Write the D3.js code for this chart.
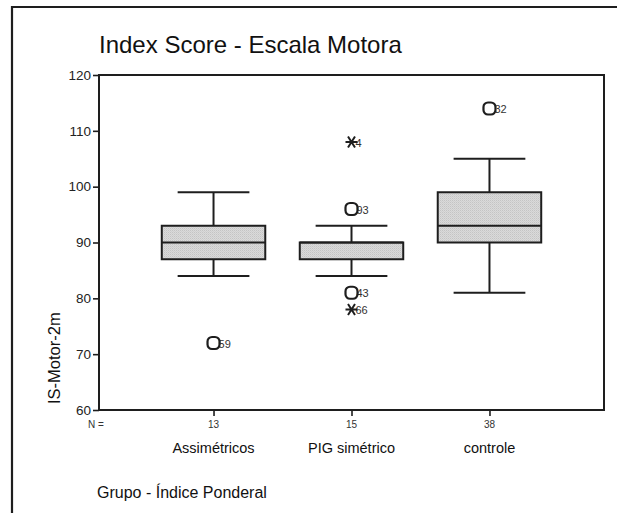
<!DOCTYPE html>
<html>
<head>
<meta charset="utf-8">
<script src="https://cdn.jsdelivr.net/npm/d3@7"></script>
<style>
  body { margin: 0; background: #fff; }
  svg { display: block; font-family: "Liberation Sans", Arial, sans-serif; }
</style>
</head>
<body>
<svg id="chart"></svg>
<script>
// box plot data
const groups = ["Assimétricos", "PIG simétrico", "controle"];
const counts = [13, 15, 38];
const whiskLow = [84, 84, 81];
const q1 = [87, 87, 90];
const medians = [90, 90, 93];
const q3 = [93, 90, 99];
const whiskHigh = [99, 93, 105];

// outliers (o) and extremes (*)
const outGroup = [0, 1, 1, 1, 1, 2];
const outValue = [72, 108, 96, 81, 78, 114];
const outLabel = ["59", "4", "93", "43", "66", "32"];
const outType = ["o", "*", "o", "o", "*", "o"];

const yTicks = [60, 70, 80, 90, 100, 110, 120];

const W = 617, H = 513;
const plot = { left: 99, right: 604, top: 75, bottom: 410 };
const INK = '#1e1e1e';

const svg = d3.select('#chart').attr('width', W).attr('height', H);

// dotted grey fill for the boxes
const pat = svg.append('defs').append('pattern')
  .attr('id', 'dots').attr('width', 2).attr('height', 2)
  .attr('patternUnits', 'userSpaceOnUse');
pat.append('rect').attr('width', 2).attr('height', 2).attr('fill', '#dadada');
pat.append('rect').attr('width', 1).attr('height', 1).attr('fill', '#c4c4c4');
pat.append('rect').attr('x', 1).attr('y', 1).attr('width', 1).attr('height', 1).attr('fill', '#cfcfcf');

// outer frame (only top and left edges visible)
svg.append('path')
  .attr('d', `M12,${H} L12,7 L${W},7`)
  .attr('fill', 'none').attr('stroke', INK).attr('stroke-width', 2.2);

const y = d3.scaleLinear().domain([60, 120]).range([plot.bottom, plot.top]);
const x = d3.scalePoint().domain(groups).range([plot.left, plot.right]).padding(0.83);
const step = x.step();
const boxW = step * 0.75, capW = step * 0.52;

// title
svg.append('text')
  .attr('x', 99).attr('y', 53)
  .attr('font-size', 24).attr('fill', '#111')
  .text('Index Score - Escala Motora');

// y axis
const yAxis = d3.axisLeft(y).tickValues(yTicks).tickSize(6).tickPadding(2);
const gy = svg.append('g').attr('transform', `translate(${plot.left},0)`).call(yAxis);
gy.select('.domain').remove();
gy.selectAll('line').attr('stroke', INK).attr('stroke-width', 1.6);
gy.selectAll('text').attr('font-size', 13.5).attr('fill', '#222')
  .attr('font-family', '"Liberation Sans", Arial, sans-serif');

// x axis ticks
const xAxis = d3.axisBottom(x).tickSize(6).tickFormat('');
const gx = svg.append('g').attr('transform', `translate(0,${plot.bottom})`).call(xAxis);
gx.select('.domain').remove();
gx.selectAll('line').attr('stroke', INK).attr('stroke-width', 1.6);

// plot frame
svg.append('rect')
  .attr('x', plot.left).attr('y', plot.top)
  .attr('width', plot.right - plot.left).attr('height', plot.bottom - plot.top)
  .attr('fill', 'none').attr('stroke', INK).attr('stroke-width', 2);

// N = row
svg.append('text').attr('x', 88).attr('y', 428)
  .attr('font-size', 10).attr('fill', '#333').text('N =');
svg.selectAll('text.count').data(groups).enter().append('text')
  .attr('class', 'count')
  .attr('x', d => x(d)).attr('y', 428)
  .attr('text-anchor', 'middle').attr('font-size', 10).attr('fill', '#333')
  .text((d, i) => counts[i]);

// category labels
svg.selectAll('text.cat').data(groups).enter().append('text')
  .attr('class', 'cat')
  .attr('x', d => x(d)).attr('y', 453)
  .attr('text-anchor', 'middle').attr('font-size', 14.5).attr('fill', '#111')
  .text(d => d);

// axis titles
svg.append('text').attr('x', 97).attr('y', 498)
  .attr('font-size', 16).attr('fill', '#111')
  .text('Grupo - Índice Ponderal');
svg.append('text')
  .attr('transform', 'translate(60,404) rotate(-90)')
  .attr('font-size', 16.5).attr('fill', '#111')
  .text('IS-Motor-2m');

// boxes
const boxes = svg.append('g').selectAll('g').data(groups).enter().append('g');
boxes.append('line')
  .attr('x1', d => x(d)).attr('x2', d => x(d))
  .attr('y1', (d, i) => y(whiskHigh[i])).attr('y2', (d, i) => y(whiskLow[i]))
  .attr('stroke', INK).attr('stroke-width', 2);
boxes.append('line')
  .attr('x1', d => x(d) - capW / 2).attr('x2', d => x(d) + capW / 2)
  .attr('y1', (d, i) => y(whiskHigh[i])).attr('y2', (d, i) => y(whiskHigh[i]))
  .attr('stroke', INK).attr('stroke-width', 2);
boxes.append('line')
  .attr('x1', d => x(d) - capW / 2).attr('x2', d => x(d) + capW / 2)
  .attr('y1', (d, i) => y(whiskLow[i])).attr('y2', (d, i) => y(whiskLow[i]))
  .attr('stroke', INK).attr('stroke-width', 2);
boxes.append('rect')
  .attr('x', d => x(d) - boxW / 2).attr('width', boxW)
  .attr('y', (d, i) => y(q3[i])).attr('height', (d, i) => y(q1[i]) - y(q3[i]))
  .attr('fill', 'url(#dots)').attr('stroke', INK).attr('stroke-width', 2);
boxes.append('line')
  .attr('x1', d => x(d) - boxW / 2).attr('x2', d => x(d) + boxW / 2)
  .attr('y1', (d, i) => y(medians[i])).attr('y2', (d, i) => y(medians[i]))
  .attr('stroke', INK).attr('stroke-width', 2);

// outliers
const outs = svg.append('g').selectAll('g').data(outValue).enter().append('g')
  .attr('transform', (d, i) => `translate(${x(groups[outGroup[i]])},${y(d)})`);
outs.append('text')
  .attr('x', (d, i) => outType[i] === 'o' ? 5 : 4).attr('y', 4.5)
  .attr('font-size', 11).attr('fill', '#333')
  .text((d, i) => outLabel[i]);
outs.filter((d, i) => outType[i] === 'o').append('rect')
  .attr('x', -6).attr('y', -6).attr('width', 12).attr('height', 12)
  .attr('rx', 4.5).attr('fill', 'none')
  .attr('stroke', INK).attr('stroke-width', 2.2);
outs.filter((d, i) => outType[i] === '*').append('path')
  .attr('d', 'M-6,0 L6,0 M-3.5,-5.5 L3.5,5.5 M-3.5,5.5 L3.5,-5.5')
  .attr('fill', 'none').attr('stroke', INK).attr('stroke-width', 2);
</script>
</body>
</html>
